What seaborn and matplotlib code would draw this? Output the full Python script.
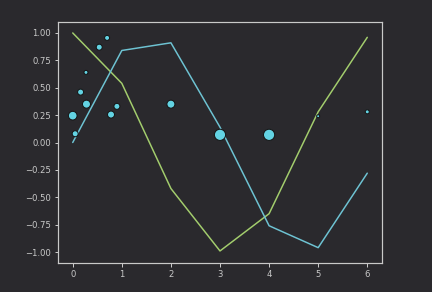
import matplotlib
matplotlib.use("Agg")
import matplotlib.pyplot as plt
import seaborn as sns
import pandas as pd

x_line = [0, 1, 2, 3, 4, 5, 6]
sin_vals = [0.0, 0.84, 0.91, 0.14, -0.76, -0.96, -0.28]
cos_vals = [1.0, 0.54, -0.42, -0.99, -0.65, 0.28, 0.96]

sc_x = [0.0, 0.05, 0.16, 0.28, 0.27, 0.54, 0.70, 0.78, 0.90, 2.0, 3.0, 4.0, 5.0, 6.0]
sc_y = [0.245, 0.08, 0.46, 0.35, 0.64, 0.87, 0.955, 0.255, 0.33, 0.35, 0.07, 0.07, 0.24, 0.28]
sc_s = [75, 36, 36, 64, 16, 36, 25, 49, 36, 64, 125, 125, 9, 16]

BG = "#2a292d"
FG = "#c9c9c9"

sns.set_theme(style="dark")
plt.rcParams["font.family"] = ["DejaVu Sans"]

fig = plt.figure(figsize=(6, 292 / 72), dpi=72, facecolor=BG)
ax = fig.add_axes([58 / 432, 1 - 263 / 292, 324 / 432, 241 / 292])
ax.set_facecolor(BG)

df_line = pd.DataFrame({"x": x_line, "sin": sin_vals, "cos": cos_vals})
df_sc = pd.DataFrame({"x": sc_x, "y": sc_y, "s": sc_s})

sns.lineplot(data=df_line, x="x", y="cos", ax=ax, color="#a3cd6d", linewidth=1.5)
sns.lineplot(data=df_line, x="x", y="sin", ax=ax, color="#6ec3d3", linewidth=1.5)
sns.scatterplot(data=df_sc, x="x", y="y", size="s", sizes=(min(sc_s), max(sc_s)),
                size_norm=(min(sc_s), max(sc_s)), ax=ax, color="#63d3e3",
                edgecolor="#151515", linewidth=1, legend=False, zorder=3)

ax.set_xlim(-0.3, 6.3)
ax.set_ylim(-1.1, 1.1)
ax.set_xticks(range(7))
ax.set_yticks([-1.0, -0.75, -0.5, -0.25, 0.0, 0.25, 0.5, 0.75, 1.0])
ax.set_yticklabels(["−1.00", "−0.75", "−0.50", "−0.25", "0.00", "0.25", "0.50", "0.75", "1.00"])
ax.set_xlabel("")
ax.set_ylabel("")
ax.grid(False)
for sp in ax.spines.values():
    sp.set_visible(True)
    sp.set_color(FG)
    sp.set_linewidth(1.2)
ax.tick_params(axis="both", colors=FG, labelcolor=FG, labelsize=8.5, length=3.5, width=1,
               bottom=True, left=True, direction="out")

fig.savefig("out.png", dpi=72, facecolor=BG)
